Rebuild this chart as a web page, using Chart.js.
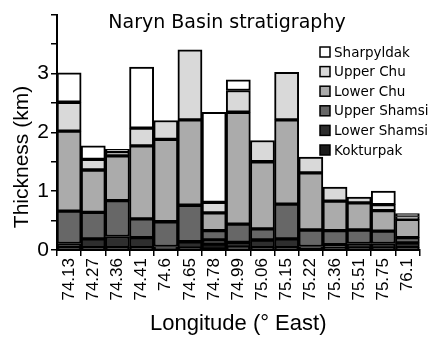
<!DOCTYPE html>
<html>
<head>
<meta charset="utf-8">
<script src="https://cdn.jsdelivr.net/npm/chart.js@4"></script>
<style>
  html, body { margin: 0; padding: 0; background: #fff; }
  #wrap { width: 430px; height: 337px; }
</style>
</head>
<body>
<div id="wrap"><canvas id="chart"></canvas></div>
<script>
// Longitude of each section (° East)
const longitudes = ['74.13', '74.27', '74.36', '74.41', '74.6', '74.65', '74.78', '74.99',
                    '75.06', '75.15', '75.22', '75.36', '75.51', '75.75', '76.1'];

// Unit thicknesses (km), bottom unit first
const kokturpak   = [0.04, 0.04, 0.04, 0.04, 0.03, 0.03, 0.10, 0.05, 0.04, 0.04, 0.02, 0.03, 0.03, 0.03, 0.04];
const lowerShamsi = [0.07, 0.15, 0.19, 0.17, 0.03, 0.11, 0.07, 0.08, 0.13, 0.15, 0.04, 0.06, 0.08, 0.08, 0.08];
const upperShamsi = [0.55, 0.45, 0.61, 0.32, 0.42, 0.62, 0.16, 0.31, 0.19, 0.59, 0.28, 0.24, 0.23, 0.21, 0.09];
const lowerChu    = [1.36, 0.72, 0.76, 1.24, 1.40, 1.45, 0.30, 1.90, 1.14, 1.43, 0.97, 0.50, 0.46, 0.35, 0.31];
const upperChu    = [0.49, 0.18, 0.07, 0.30, 0.32, 1.19, 0.18, 0.37, 0.36, 0.81, 0.27, 0.24, 0.10, 0.10, 0.05];
const sharpyldak  = [0.50, 0.23, 0.04, 1.04, 0, 0, 1.53, 0.18, 0, 0, 0, 0, 0, 0.23, 0.05];

const yTicksShown = [0, 1, 2, 3];

function unit(label, data, color) {
    return {
        label: label,
        data: data,
        backgroundColor: color,
        borderColor: '#000',
        borderWidth: 2,
        borderSkipped: false,
        barPercentage: 1,
        categoryPercentage: 1,
    };
}

const axisFont = '"Liberation Sans", Arial, sans-serif';

// title, legend and y title are placed by hand like in the original
const overlay = {
    id: 'overlay',
    afterDraw(chart) {
        const ctx = chart.ctx;
        ctx.save();
        ctx.fillStyle = '#000';
        ctx.font = '19px "DejaVu Sans"';
        ctx.textAlign = 'center';
        ctx.textBaseline = 'alphabetic';
        ctx.fillText('Naryn Basin stratigraphy', 227, 28);

        // y axis title sits a bit low in the reference
        ctx.save();
        ctx.translate(22, 157);
        ctx.rotate(-Math.PI / 2);
        ctx.font = '21px ' + axisFont;
        ctx.textBaseline = 'middle';
        ctx.fillText('Thickness (km)', 0, 0);
        ctx.restore();

        ctx.font = '13.5px "DejaVu Sans"';
        ctx.textAlign = 'left';
        ctx.textBaseline = 'middle';
        const sets = chart.data.datasets.slice().reverse();
        sets.forEach((ds, i) => {
            const y = 52 + i * 19.6;
            ctx.fillStyle = ds.backgroundColor;
            ctx.fillRect(320, y - 5, 10, 10);
            ctx.lineWidth = 1.5;
            ctx.strokeStyle = '#000';
            ctx.strokeRect(320, y - 5, 10, 10);
            ctx.fillStyle = '#000';
            ctx.fillText(ds.label, 334, y + 1);
        });
        ctx.restore();
    }
};

new Chart(document.getElementById('chart'), {
    type: 'bar',
    data: {
        labels: longitudes,
        datasets: [
            unit('Kokturpak', kokturpak, '#1c1c1c'),
            unit('Lower Shamsi', lowerShamsi, '#2e2e2e'),
            unit('Upper Shamsi', upperShamsi, '#676767'),
            unit('Lower Chu', lowerChu, '#ababab'),
            unit('Upper Chu', upperChu, '#d9d9d9'),
            unit('Sharpyldak', sharpyldak, '#ffffff'),
        ]
    },
    options: {
        responsive: true,
        maintainAspectRatio: false,
        animation: false,
        layout: { padding: { top: 10, right: 3, left: 0, bottom: 0 } },
        plugins: {
            legend: { display: false },
            tooltip: { enabled: false },
        },
        scales: {
            x: {
                stacked: true,
                grid: { drawOnChartArea: false, tickLength: 6, color: '#000', lineWidth: 1.5 },
                border: { color: '#000', width: 2 },
                ticks: {
                    minRotation: 90, maxRotation: 90, autoSkip: false,
                    color: '#000', padding: 2,
                    font: { family: axisFont, size: 17 },
                },
                title: {
                    display: true, text: 'Longitude (° East)', color: '#000',
                    font: { family: axisFont, size: 22 }, padding: 0,
                },
                afterFit(scale) { scale.height = 87; },
            },
            y: {
                stacked: true,
                min: 0,
                max: 4,
                grid: { drawOnChartArea: false, tickLength: 6, color: '#000', lineWidth: 1.5 },
                border: { color: '#000', width: 2 },
                ticks: {
                    stepSize: 0.5, color: '#000', padding: 2,
                    font: { family: axisFont, size: 21 },
                    callback: v => yTicksShown.includes(v) ? v : '',
                },
                title: { display: false },
                afterFit(scale) { scale.width = 57; },
            }
        }
    },
    plugins: [overlay]
});
</script>
</body>
</html>
